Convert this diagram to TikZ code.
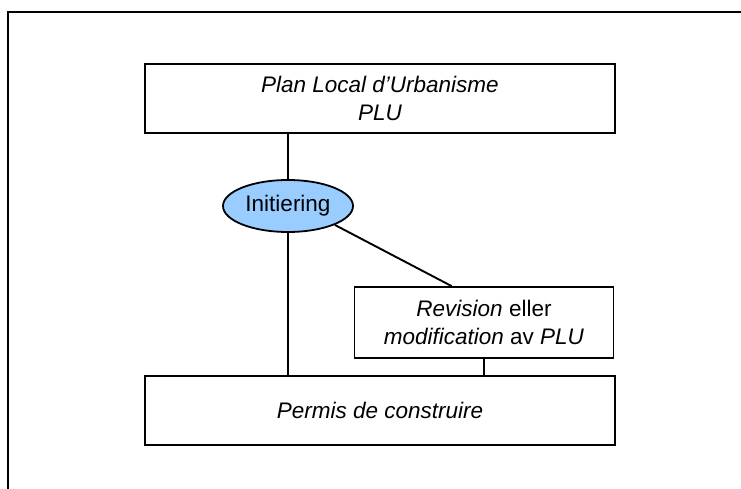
\documentclass[tikz,border=0pt]{standalone}
\usepackage{fontspec}
\setmainfont{Liberation Sans}
\usetikzlibrary{
  shapes.geometric,
}

\begin{document}
\begin{tikzpicture}[x=1pt, y=-1pt,
  every node/.style={font=\fontsize{22.5pt}{27.5pt}\selectfont, align=center, inner sep=0pt},
  box/.style={draw, line width=1.8pt, fill=white},
  bubble/.style={ellipse, draw, line width=1.8pt, minimum width=130pt, minimum height=52pt},
  link/.style={line width=1.9pt},
]
\useasboundingbox (0,0) rectangle (741,489);
\draw[line width=2pt] (7.5,489) -- (7.5,12) -- (741,12);
\node[box, minimum width=470pt, minimum height=69pt] (plu) at (380,98.5)
  {\itshape Plan Local d'Urbanisme\\\itshape PLU};
\node[bubble, fill={rgb,255:red,153;green,204;blue,255}] (ini) at (288,206) {Initiering};
\node[box, minimum width=259pt, minimum height=71pt] (rv) at (484,322.5)
  {\textit{Revision} eller\\ \textit{modification} av \textit{PLU}};
\node[box, minimum width=470pt, minimum height=69pt] (pc) at (380,410.5)
  {\itshape Permis de construire};
\coordinate (rvtop) at ([xshift=98pt]rv.north west);
\draw[link] (plu.south -| ini.north) -- (ini.north);
\draw[link] (ini.south) -- (ini.south |- pc.north);
\draw[link] (ini.-22) -- (rvtop);
\draw[link] (rv.south) -- (rv.south |- pc.north);
\end{tikzpicture}
\end{document}
